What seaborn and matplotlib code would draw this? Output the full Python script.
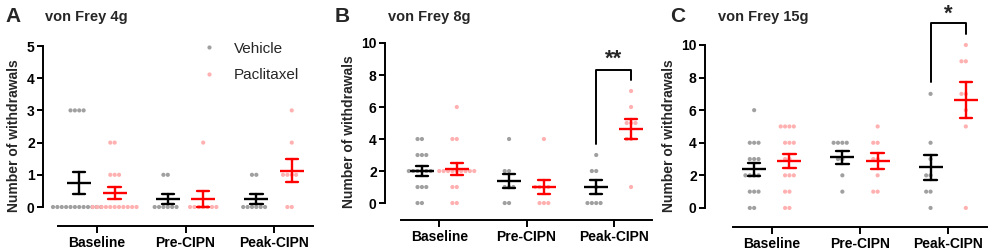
import numpy as np
import pandas as pd
import seaborn as sns
import matplotlib.pyplot as plt

sns.set_style('white')
plt.rcParams['font.family'] = ['Liberation Sans', 'DejaVu Sans']

# group order and colours
groups = ['Vehicle', 'Paclitaxel']
timepoints = ['Baseline', 'Pre-CIPN', 'Peak-CIPN']

# von Frey 4g - number of withdrawals per animal
vf4_vehicle = {
    'Baseline': [3, 3, 3, 3, 0, 0, 0, 0, 0, 0, 0, 0, 0, 0, 0, 0],
    'Pre-CIPN': [1, 1, 0, 0, 0, 0, 0, 0],
    'Peak-CIPN': [1, 1, 0, 0, 0, 0, 0, 0],
}
vf4_paclitaxel = {
    'Baseline': [2, 2, 1, 1, 1, 0, 0, 0, 0, 0, 0, 0, 0, 0, 0, 0],
    'Pre-CIPN': [2, 0, 0, 0, 0, 0, 0, 0],
    'Peak-CIPN': [3, 2, 1, 1, 1, 1, 0, 0],
}

# von Frey 8g
vf8_vehicle = {
    'Baseline': [4, 4, 3, 3, 3, 2, 2, 2, 2, 2, 2, 1, 1, 1, 0, 0],
    'Pre-CIPN': [4, 2, 2, 1, 1, 1, 0, 0],
    'Peak-CIPN': [3, 2, 2, 1, 0, 0, 0, 0],
}
vf8_paclitaxel = {
    'Baseline': [6, 4, 4, 2, 2, 2, 2, 2, 2, 2, 2, 2, 1, 1, 0, 0],
    'Pre-CIPN': [4, 1, 1, 1, 1, 0, 0, 0],
    'Peak-CIPN': [7, 6, 5, 5, 5, 4, 4, 1],
}

# von Frey 15g
vf15_vehicle = {
    'Baseline': [6, 4, 4, 4, 3, 3, 3, 2, 2, 2, 2, 1, 1, 1, 0, 0],
    'Pre-CIPN': [4, 4, 4, 4, 3, 3, 2, 1],
    'Peak-CIPN': [7, 4, 3, 2, 2, 1, 1, 0],
}
vf15_paclitaxel = {
    'Baseline': [5, 5, 5, 5, 4, 4, 4, 3, 3, 2, 2, 2, 1, 1, 0, 0],
    'Pre-CIPN': [5, 4, 4, 3, 3, 2, 1, 1],
    'Peak-CIPN': [10, 9, 9, 7, 7, 6, 5, 0],
}

panels = [
    ('A', 'von Frey 4g', vf4_vehicle, vf4_paclitaxel, 5, [0, 1, 2, 3, 4, 5]),
    ('B', 'von Frey 8g', vf8_vehicle, vf8_paclitaxel, 10, [0, 2, 4, 6, 8, 10]),
    ('C', 'von Frey 15g', vf15_vehicle, vf15_paclitaxel, 10, [0, 2, 4, 6, 8, 10]),
]

# significance brackets: (left leg bottom, right leg bottom, top, label, label y)
brackets = {
    'B': (3.7, 7.7, 8.3, '**', 9.0),
    'C': (7.7, 10.7, 11.35, '*', 11.9),
}

# layout in pixels (figure 989 x 250)
W, H = 989, 250
# left, right, top, bottom(x axis), ymin, left spine offset px
layout = [
    (58, 313, 46, 226, -0.59, 15),
    (401, 652, 43, 220, -1.06, 16),
    (733, 987, 45, 227, -1.17, 28),
]
letter_x = [5, 335, 670]
title_x = [45, 388, 718]

dot_pal = {'Vehicle': '#a0a0a0', 'Paclitaxel': '#ffb0b0'}
bar_pal = {'Vehicle': 'black', 'Paclitaxel': 'red'}

fig = plt.figure(figsize=(W / 100, H / 100), dpi=100)

for i, (letter, title, veh, pac, ymax, yticks) in enumerate(panels):
    l, r, t, b, ymin, off = layout[i]
    ax = fig.add_axes([l / W, 1 - b / H, (r - l) / W, (b - t) / H])

    rows = []
    for g, d in zip(groups, [veh, pac]):
        for tp in timepoints:
            for v in d[tp]:
                rows.append({'time': tp, 'group': g, 'value': v})
    df = pd.DataFrame(rows)

    sns.swarmplot(data=df, x='time', y='value', hue='group', order=timepoints,
                  hue_order=groups, palette=dot_pal, dodge=True, size=3.0,
                  ax=ax, legend=(i == 0), zorder=1, warn_thresh=1)
    sns.pointplot(data=df, x='time', y='value', hue='group', order=timepoints,
                  hue_order=groups, palette=bar_pal, dodge=0.4,
                  errorbar='se', capsize=0.14, linestyle='none', marker='_',
                  markersize=17, markeredgewidth=1.7,
                  err_kws={'linewidth': 1.7}, ax=ax, legend=False)
    # dots at the top of the scale should not be cut by the axes
    for coll in ax.collections:
        coll.set_clip_on(False)

    ax.set_xlim(-0.44, 2.44)
    ax.set_ylim(ymin, ymax)
    ax.set_yticks(yticks)
    ax.spines['top'].set_visible(False)
    ax.spines['right'].set_visible(False)
    ax.spines['left'].set_bounds(0, ymax)
    ax.spines['left'].set_position(('outward', off * 0.72))
    for s in ['left', 'bottom']:
        ax.spines[s].set_linewidth(1.4)
        ax.spines[s].set_color('black')
    ax.tick_params(axis='both', direction='out', length=4, width=1.4,
                   colors='black', labelsize=10, bottom=True, left=True)
    ax.tick_params(axis='x', length=5, pad=2)
    ax.tick_params(axis='y', pad=2)
    for lab in ax.get_xticklabels() + ax.get_yticklabels():
        lab.set_fontweight('bold')
    ax.set_xlabel('')
    ax.set_ylabel('Number of withdrawals', fontsize=10, fontweight='bold',
                  labelpad=4)

    fig.text(letter_x[i] / W, 1 - 16 / H, letter, fontsize=15,
             fontweight='bold', va='center', ha='left')
    fig.text(title_x[i] / W, 1 - 17 / H, title, fontsize=10.5,
             fontweight='bold', va='center', ha='left')

    if letter in brackets:
        lb, rb, top, lab, ly = brackets[letter]
        x0, x1 = 2 - 0.2, 2 + 0.2
        ax.plot([x0, x0, x1, x1], [lb, top, top, rb], color='black',
                lw=1.4, clip_on=False)
        ax.text(2, ly, lab, ha='center', va='center',
                fontsize=16, fontweight='bold', clip_on=False)

    if i == 0:
        ax.legend(loc='upper left', bbox_to_anchor=(0.48, 1.1),
                  frameon=False, fontsize=11, handletextpad=0.6,
                  labelspacing=0.8, markerscale=1.0)

fig.savefig('out.png', dpi=100)
